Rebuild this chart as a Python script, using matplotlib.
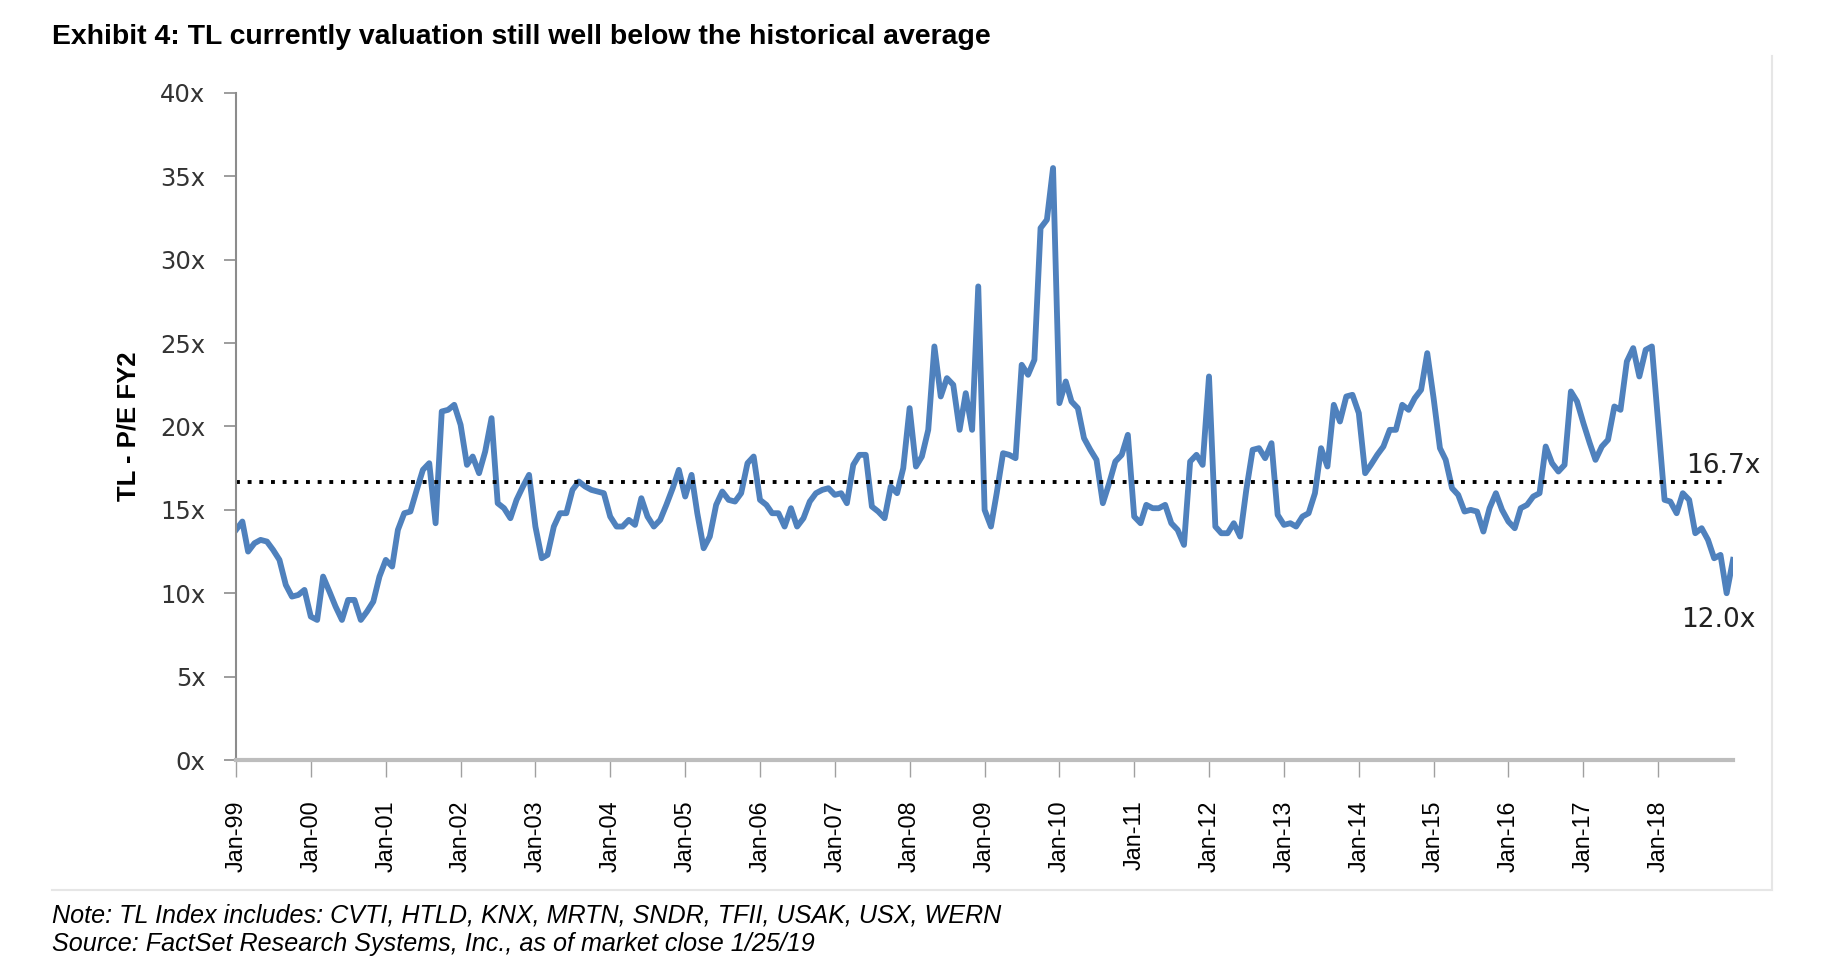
import numpy as np
import pandas as pd
import matplotlib
matplotlib.use('Agg')
import matplotlib.pyplot as plt
from matplotlib.lines import Line2D

# monthly TL P/E (FY2), Jan-99 .. Jan-19
pe = [13.8, 14.3, 12.5, 13.0, 13.2, 13.1, 12.6, 12.0, 10.5, 9.8, 9.9, 10.2,
      8.6, 8.4, 11.0, 10.1, 9.2, 8.4, 9.6, 9.6, 8.4, 8.9, 9.5, 11.0,
      12.0, 11.6, 13.8, 14.8, 14.9, 16.2, 17.4, 17.8, 14.2, 20.9, 21.0, 21.3,
      20.1, 17.7, 18.2, 17.2, 18.5, 20.5, 15.4, 15.1, 14.5, 15.6, 16.4, 17.1,
      14.0, 12.1, 12.3, 14.0, 14.8, 14.8, 16.2, 16.7, 16.4, 16.2, 16.1, 16.0,
      14.6, 14.0, 14.0, 14.4, 14.1, 15.7, 14.6, 14.0, 14.4, 15.3, 16.3, 17.4,
      15.8, 17.1, 14.8, 12.7, 13.4, 15.3, 16.1, 15.6, 15.5, 16.0, 17.8, 18.2,
      15.6, 15.3, 14.8, 14.8, 14.0, 15.1, 14.0, 14.5, 15.5, 16.0, 16.2, 16.3,
      15.9, 16.0, 15.4, 17.7, 18.3, 18.3, 15.2, 14.9, 14.5, 16.4, 16.0, 17.5,
      21.1, 17.6, 18.2, 19.8, 24.8, 21.8, 22.9, 22.5, 19.8, 22.0, 19.8, 28.4,
      15.0, 14.0, 16.0, 18.4, 18.3, 18.1, 23.7, 23.1, 24.0, 31.9, 32.4, 35.5,
      21.4, 22.7, 21.5, 21.1, 19.3, 18.6, 18.0, 15.4, 16.6, 17.9, 18.3, 19.5,
      14.6, 14.2, 15.3, 15.1, 15.1, 15.3, 14.2, 13.8, 12.9, 17.9, 18.3, 17.7,
      23.0, 14.0, 13.6, 13.6, 14.2, 13.4, 16.2, 18.6, 18.7, 18.1, 19.0, 14.7,
      14.1, 14.2, 14.0, 14.6, 14.8, 16.0, 18.7, 17.6, 21.3, 20.3, 21.8, 21.9,
      20.8, 17.2, 17.7, 18.3, 18.8, 19.8, 19.8, 21.3, 21.0, 21.7, 22.2, 24.4,
      21.7, 18.7, 18.0, 16.3, 15.9, 14.9, 15.0, 14.9, 13.7, 15.1, 16.0, 15.0,
      14.3, 13.9, 15.1, 15.3, 15.8, 16.0, 18.8, 17.8, 17.3, 17.7, 22.1, 21.5,
      20.2, 19.0, 18.0, 18.8, 19.2, 21.2, 21.0, 23.9, 24.7, 23.0, 24.6, 24.8,
      20.2, 15.6, 15.5, 14.8, 16.0, 15.6, 13.6, 13.9, 13.2, 12.1, 12.3, 10.0,
      12.0]
dates = pd.date_range('1999-01-01', periods=len(pe), freq='MS')
avg_pe = 16.7
last_pe = pe[-1]

yticks = [0, 5, 10, 15, 20, 25, 30, 35, 40]
ytick_labels = [f'{v}x' for v in yticks]
xtick_dates = pd.date_range('1999-01-01', '2018-01-01', freq='YS')
xtick_labels = [d.strftime('Jan-%y') for d in xtick_dates]

title = 'Exhibit 4: TL currently valuation still well below the historical average'
note = 'Note: TL Index includes: CVTI, HTLD, KNX, MRTN, SNDR, TFII, USAK, USX, WERN'
source = 'Source: FactSet Research Systems, Inc., as of market close 1/25/19'

fig = plt.figure(figsize=(18.3, 9.76), dpi=100)
ax = fig.add_axes([236 / 1830, 216 / 976, 1497 / 1830, 667 / 976])

ax.plot(dates, pe, color='#4f81bd', lw=4.2, solid_joinstyle='round')
ax.axhline(avg_pe, xmax=0.995, color='black', lw=2.8, ls=(0, (1, 2.0)))

ax.set_ylim(0, 40)
ax.set_xlim(dates[0], dates[-1])
ax.set_yticks(yticks)
ax.set_yticklabels(ytick_labels, fontsize=17.5, color='#333333', family='DejaVu Sans')
ax.set_xticks(xtick_dates)
ax.set_xticklabels(xtick_labels, rotation=90, fontsize=16.8, color='black',
                   family='Liberation Sans')
ax.tick_params(axis='y', length=9, width=1.2, color='#8c8c8c', pad=13)
ax.tick_params(axis='x', length=12, width=1.0, color='#a0a0a0', pad=17)

for s in ['top', 'right']:
    ax.spines[s].set_visible(False)
ax.spines['left'].set_color('#8c8c8c')
ax.spines['left'].set_linewidth(1.5)
ax.spines['bottom'].set_color('#bdbdbd')
ax.spines['bottom'].set_linewidth(3)

ax.set_ylabel('TL - P/E FY2', fontsize=18.5, fontweight='bold', family='Liberation Sans',
              labelpad=14)

ax.annotate(f'{avg_pe}x', xy=(dates[-1], avg_pe), xytext=(-34, 11.5), textcoords='offset points',
            fontsize=19, color='#222222', family='DejaVu Sans', va='center', ha='left',
            annotation_clip=False)
ax.annotate(f'{last_pe:.1f}x', xy=(dates[-1], last_pe), xytext=(-37, -43), textcoords='offset points',
            fontsize=19, color='#222222', family='DejaVu Sans', va='center', ha='left',
            annotation_clip=False)

# faint frame around the chart
fig.add_artist(Line2D([1772 / 1830, 1772 / 1830], [1 - 56 / 976, 1 - 890 / 976],
                      color='#e6e6e6', lw=1.5))
fig.add_artist(Line2D([52 / 1830, 1772 / 1830], [1 - 890 / 976, 1 - 890 / 976],
                      color='#e6e6e6', lw=1.5))

fig.text(52 / 1830, 1 - 37 / 976, title, fontsize=20.4, fontweight='bold',
         family='Liberation Sans', va='center', ha='left')
fig.text(52 / 1830, 1 - 915 / 976, note, fontsize=18.1, style='italic',
         family='Liberation Sans', va='center', ha='left')
fig.text(52 / 1830, 1 - 944 / 976, source, fontsize=18.1, style='italic',
         family='Liberation Sans', va='center', ha='left')

fig.savefig('out.png', dpi=100, facecolor='white')
